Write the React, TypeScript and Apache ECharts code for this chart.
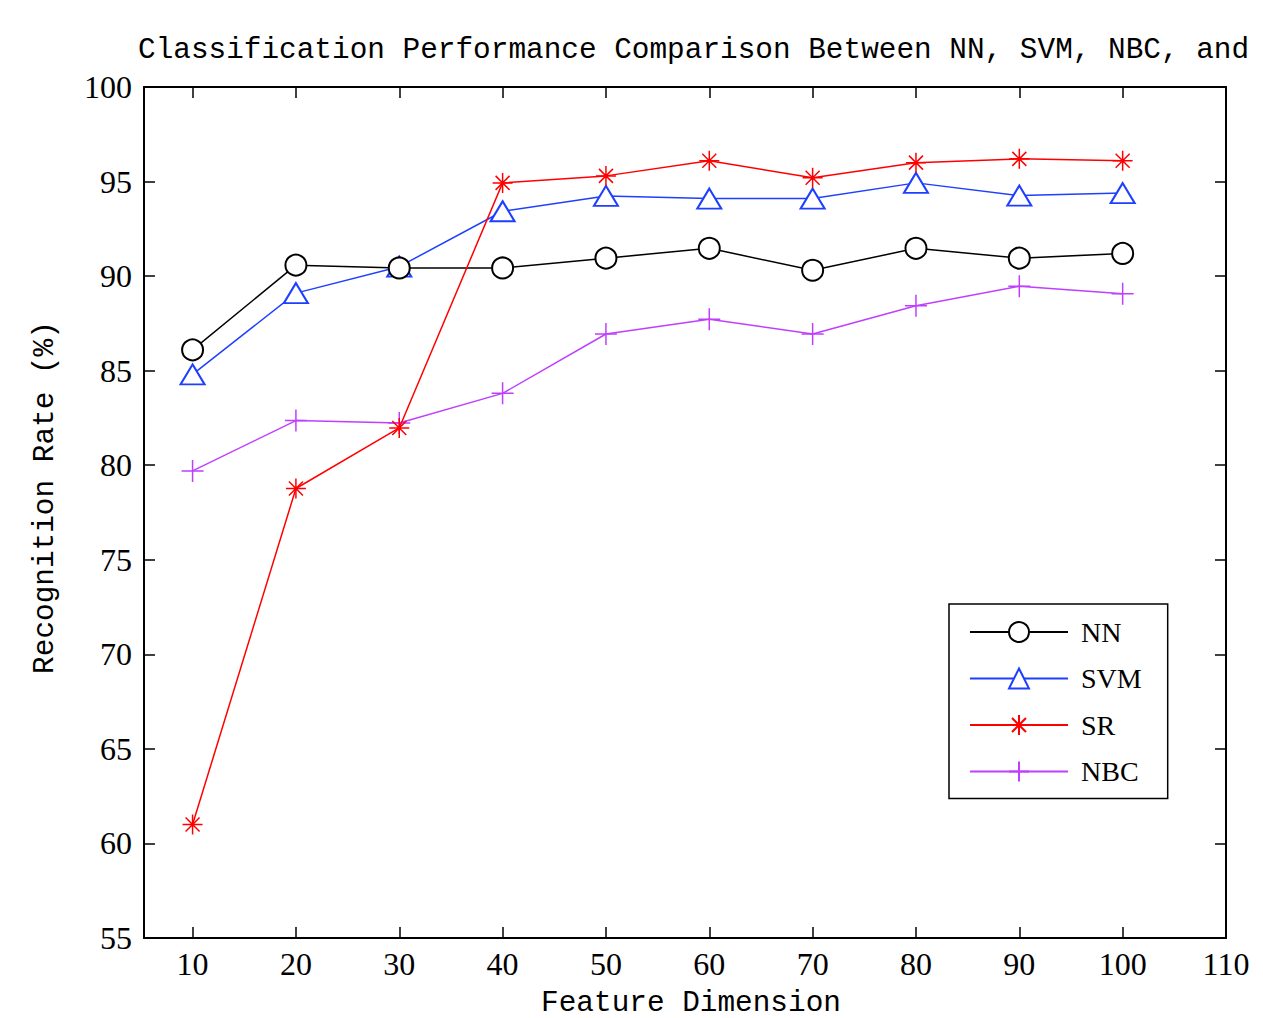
import React, { useEffect, useRef } from "react";
import * as echarts from "echarts";

const dims = [10, 20, 30, 40, 50, 60, 70, 80, 90, 100];
const xTicks = [10, 20, 30, 40, 50, 60, 70, 80, 90, 100, 110];
const nnValues = [86.1, 90.58, 90.43, 90.43, 90.95, 91.47, 90.31, 91.47, 90.95, 91.2];
const svmValues = [84.8, 89.1, 90.5, 93.43, 94.24, 94.1, 94.1, 94.93, 94.26, 94.39];
const srValues = [61.0, 78.77, 81.97, 94.93, 95.3, 96.1, 95.2, 96.0, 96.2, 96.1];
const nbcValues = [79.7, 82.36, 82.23, 83.8, 86.94, 87.72, 86.94, 88.43, 89.46, 89.07];
const seriesNames = ["NN", "SVM", "SR", "NBC"];
const titleText = "Classification Performance Comparison Between NN, SVM, NBC, and";
const xName = "Feature Dimension";
const yName = "Recognition Rate (%)";

const ASTERISK = "path://M0,-1L0,1M-1,0L1,0M-0.7,-0.7L0.7,0.7M-0.7,0.7L0.7,-0.7";
const PLUS = "path://M0,-1L0,1M-1,0L1,0";

const toPairs = (vals: number[]) => dims.map((d, i) => [d, vals[i]]);

export default function App() {
  const ref = useRef<HTMLDivElement>(null);
  useEffect(() => {
    if (!ref.current) return;
    const chart = echarts.init(ref.current, undefined, { renderer: "svg" });
    const serif = "Liberation Serif";
    const mono = "Liberation Mono";
    const axisLine = { show: true, onZero: false, lineStyle: { color: "#000", width: 2 } };
    const tickStyle = { color: "#000", width: 1.5 };
    chart.setOption({
      animation: false,
      backgroundColor: "#fff",
      title: {
        text: titleText,
        left: 138,
        top: 36,
        padding: 0,
        textStyle: { fontFamily: mono, fontSize: 29.4, fontWeight: "normal", color: "#000" },
      },
      grid: { left: 144, top: 87, width: 1082, height: 851, containLabel: false, outerBoundsMode: "none" },
      legend: {
        orient: "vertical",
        left: 949,
        top: 604,
        padding: [14, 26, 13, 20],
        itemWidth: 98,
        itemHeight: 25,
        itemGap: 18.5,
        borderColor: "#000",
        borderWidth: 1.5,
        backgroundColor: "#fff",
        data: seriesNames,
        textStyle: { fontFamily: serif, fontSize: 28, color: "#000", padding: [0, 0, 0, 8] },
      },
      xAxis: [
        {
          type: "value",
          min: 5.3,
          max: 110,
          name: xName,
          nameLocation: "middle",
          nameGap: 51,
          nameTextStyle: {
            fontFamily: mono,
            fontSize: 29.4,
            lineHeight: 28,
            color: "#000",
            padding: [0, 0, 0, 12],
          },
          axisLine,
          axisTick: { show: true, inside: true, length: 11, lineStyle: tickStyle, customValues: xTicks },
          axisLabel: { show: true, fontFamily: serif, fontSize: 32, color: "#000", margin: 10, customValues: xTicks },
          splitLine: { show: false },
        },
        {
          type: "value",
          position: "top",
          min: 5.3,
          max: 110,
          axisLine,
          axisTick: { show: true, inside: true, length: 11, lineStyle: tickStyle, customValues: xTicks },
          axisLabel: { show: false },
          splitLine: { show: false },
        },
      ],
      yAxis: [
        {
          type: "value",
          min: 55,
          max: 100,
          interval: 5,
          name: yName,
          nameLocation: "middle",
          nameGap: 84,
          nameTextStyle: { fontFamily: mono, fontSize: 29.4, color: "#000", padding: [0, 0, 0, 30] },
          axisLine,
          axisTick: { show: true, inside: true, length: 11, lineStyle: tickStyle },
          axisLabel: { show: true, fontFamily: serif, fontSize: 32, color: "#000", margin: 12 },
          splitLine: { show: false },
        },
        {
          type: "value",
          position: "right",
          min: 55,
          max: 100,
          interval: 5,
          axisLine,
          axisTick: { show: true, inside: true, length: 11, lineStyle: tickStyle },
          axisLabel: { show: false },
          splitLine: { show: false },
        },
      ],
      series: [
        {
          name: "NN",
          type: "line",
          data: toPairs(nnValues),
          symbol: "emptyCircle",
          symbolSize: 21,
          lineStyle: { color: "#000", width: 1.5 },
          itemStyle: { color: "#000", borderColor: "#000", borderWidth: 1.5 },
          z: 4,
        },
        {
          name: "SVM",
          type: "line",
          data: toPairs(svmValues),
          symbol: "emptyTriangle",
          symbolSize: [24, 20],
          lineStyle: { color: "#1f3fff", width: 1.5 },
          itemStyle: { color: "#1f3fff", borderColor: "#1f3fff", borderWidth: 1.5 },
          z: 3,
        },
        {
          name: "SR",
          type: "line",
          data: toPairs(srValues),
          symbol: ASTERISK,
          symbolSize: 20,
          lineStyle: { color: "#ff0000", width: 1.5 },
          itemStyle: { color: "#ff0000", borderColor: "#ff0000", borderWidth: 1.5 },
          z: 5,
        },
        {
          name: "NBC",
          type: "line",
          data: toPairs(nbcValues),
          symbol: PLUS,
          symbolSize: 22,
          lineStyle: { color: "#bf3fff", width: 1.5 },
          itemStyle: { color: "#bf3fff", borderColor: "#bf3fff", borderWidth: 1.5 },
          z: 2,
        },
      ],
    });
    return () => chart.dispose();
  }, []);
  return (
    <div
      ref={ref}
      style={{ position: "absolute", left: 0, top: 0, width: 1263, height: 1018, background: "#fff" }}
    />
  );
}
